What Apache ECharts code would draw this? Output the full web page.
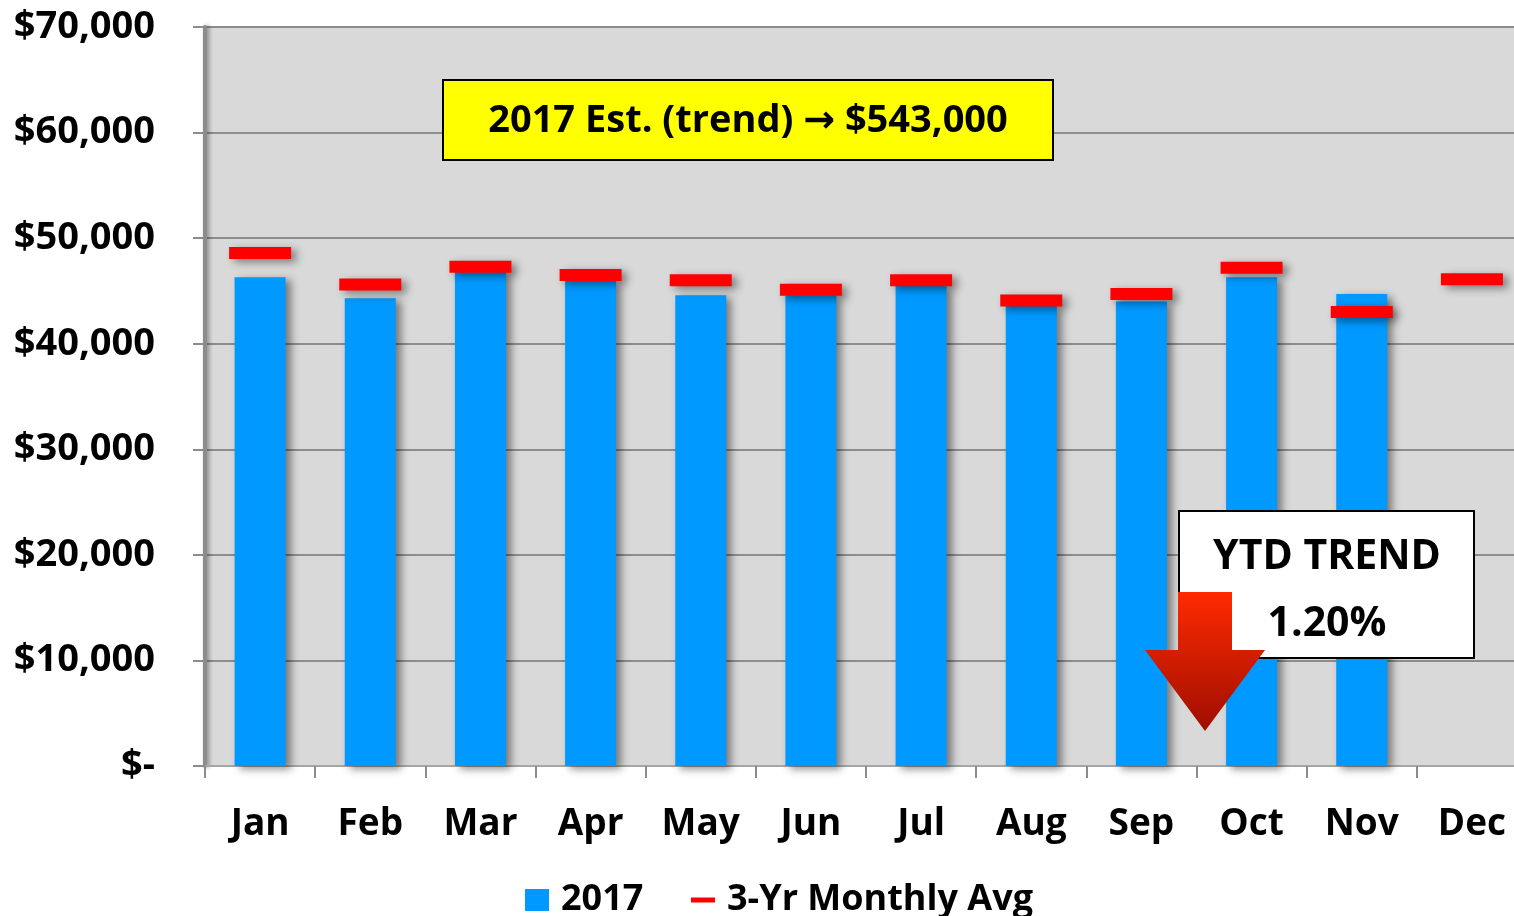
<!DOCTYPE html>
<html>
<head>
<meta charset="utf-8">
<script src="https://cdn.jsdelivr.net/npm/echarts@6/dist/echarts.min.js"></script>
<style>
  html, body { margin: 0; padding: 0; background: #fff; }
  #chart { width: 1514px; height: 916px; }
</style>
</head>
<body>
<div id="chart"></div>
<script>
  // months and values
  var months = ['Jan', 'Feb', 'Mar', 'Apr', 'May', 'Jun', 'Jul', 'Aug', 'Sep', 'Oct', 'Nov', 'Dec'];
  var sales2017 = [46300, 44300, 47000, 46000, 44600, 44600, 45500, 43600, 44000, 46300, 44700, null];
  var avg3yr = [48600, 45600, 47300, 46500, 46000, 45100, 46000, 44100, 44700, 47200, 43000, 46100];
  var yTicks = [0, 10000, 20000, 30000, 40000, 50000, 60000, 70000];

  var FONT = '"Open Sans", "DejaVu Sans", sans-serif';

  function money(v) {
    if (v === 0) return '$-';
    return '$' + v.toLocaleString('en-US');
  }

  var chart = echarts.init(document.getElementById('chart'));
  var option = {
    animation: false,
    grid: {
      left: 205, width: 1322, top: 27, bottom: 150,
      outerBoundsMode: 'none',
      show: true, backgroundColor: '#d9d9d9', borderWidth: 0
    },
    legend: [{
      data: [{ name: '2017', icon: 'rect' }],
      left: 520, top: 877,
      itemWidth: 24, itemHeight: 22,
      textStyle: { fontFamily: FONT, fontWeight: 'bold', fontSize: 36, color: '#000', padding: [0, 0, 0, 7] }
    }, {
      data: [{ name: '3-Yr Monthly Avg', icon: 'rect' }],
      left: 686, top: 877,
      itemWidth: 24, itemHeight: 5,
      textStyle: { fontFamily: FONT, fontWeight: 'bold', fontSize: 36, color: '#000', padding: [0, 0, 0, 7] }
    }],
    xAxis: {
      type: 'category',
      data: months,
      boundaryGap: true,
      axisLine: { lineStyle: { color: '#a6a6a6', width: 2 } },
      axisTick: { show: true, length: 12, lineStyle: { color: '#8c8c8c', width: 2 } },
      axisLabel: { margin: 40, fontFamily: FONT, fontWeight: 'bold', fontSize: 37, color: '#000' }
    },
    yAxis: {
      type: 'value',
      min: yTicks[0], max: yTicks[yTicks.length - 1], interval: 10000,
      axisLine: { show: true, lineStyle: { color: '#8c8c8c', width: 4, shadowColor: 'rgba(0,0,0,0.4)', shadowBlur: 4, shadowOffsetX: 2 } },
      axisTick: { show: true, length: 12, lineStyle: { color: '#8c8c8c', width: 2 } },
      splitLine: { lineStyle: { color: '#8c8c8c', width: 2 } },
      axisLabel: { margin: 50, formatter: money, fontFamily: FONT, fontWeight: 'bold', fontSize: 38, color: '#000' }
    },
    series: [{
      name: '2017',
      type: 'bar',
      data: sales2017,
      barWidth: 51,
      itemStyle: {
        color: '#0099ff',
        shadowColor: 'rgba(0,0,0,0.45)', shadowBlur: 8, shadowOffsetX: 5, shadowOffsetY: 3
      },
      z: 2
    }, {
      name: '3-Yr Monthly Avg',
      type: 'scatter',
      data: avg3yr,
      symbol: 'rect',
      symbolSize: [62, 12],
      itemStyle: {
        color: '#ff0000', opacity: 1,
        shadowColor: 'rgba(0,0,0,0.45)', shadowBlur: 8, shadowOffsetX: 5, shadowOffsetY: 3
      },
      z: 3
    }],
    graphic: [{
      type: 'rect',
      shape: { x: 443, y: 80, width: 610, height: 80 },
      style: { fill: '#ffff00', stroke: '#000', lineWidth: 2 },
      z: 10
    }, {
      type: 'text',
      x: 748, y: 121,
      style: {
        text: '2017 Est. (trend) \u2192 $543,000',
        fontFamily: FONT, fontWeight: 'bold', fontSize: 38, fill: '#000',
        align: 'center', verticalAlign: 'middle'
      },
      z: 11
    }, {
      type: 'rect',
      shape: { x: 1179, y: 511, width: 295, height: 147 },
      style: { fill: '#fff', stroke: '#000', lineWidth: 2 },
      z: 10
    }, {
      type: 'text',
      x: 1327, y: 557,
      style: {
        text: 'YTD TREND',
        fontFamily: FONT, fontWeight: 'bold', fontSize: 41, fill: '#000',
        align: 'center', verticalAlign: 'middle'
      },
      z: 11
    }, {
      type: 'text',
      x: 1327, y: 624,
      style: {
        text: '1.20%',
        fontFamily: FONT, fontWeight: 'bold', fontSize: 41, fill: '#000',
        align: 'center', verticalAlign: 'middle'
      },
      z: 11
    }, {
      type: 'polygon',
      shape: {
        points: [[1178, 592], [1232, 592], [1232, 650], [1265, 650], [1205, 731], [1145, 650], [1178, 650]]
      },
      style: {
        fill: new echarts.graphic.LinearGradient(0, 0, 0, 1, [
          { offset: 0, color: '#ff2a00' },
          { offset: 1, color: '#9e0e00' }
        ])
      },
      z: 12
    }]
  };
  chart.setOption(option);
</script>
</body>
</html>
